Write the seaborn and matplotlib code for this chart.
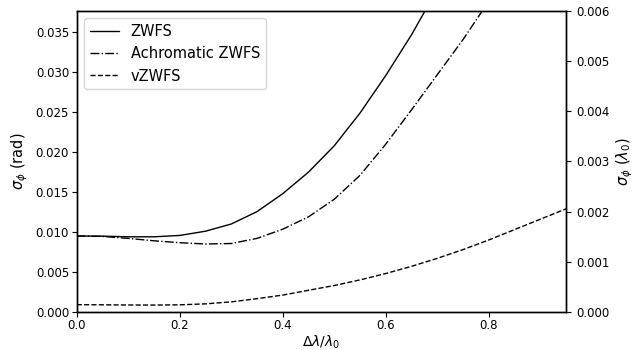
import numpy as np
import pandas as pd
import seaborn as sns
import matplotlib
matplotlib.use("Agg")
import matplotlib.pyplot as plt

sns.set_style("ticks")
plt.rcParams['font.family'] = ['DejaVu Sans']
plt.rcParams['text.color'] = 'k'
plt.rcParams['axes.labelcolor'] = 'k'
plt.rcParams['xtick.color'] = 'k'
plt.rcParams['ytick.color'] = 'k'

# bandwidth values
dl = [0.0, 0.05, 0.1, 0.15, 0.2, 0.25, 0.3, 0.35, 0.4, 0.45,
      0.5, 0.55, 0.6, 0.65, 0.7, 0.75, 0.8, 0.85, 0.9, 0.95]

zwfs = [0.0095, 0.00948, 0.0094, 0.0094, 0.00957, 0.0101, 0.0110, 0.01255, 0.0148, 0.0175,
        0.0208, 0.0249, 0.0296, 0.0347, 0.0404, 0.0466, 0.0533, 0.0605, 0.068, 0.076]
achro = [0.0095, 0.00945, 0.0092, 0.0089, 0.00866, 0.0085, 0.00856, 0.0092, 0.01035, 0.0119,
         0.0141, 0.0171, 0.0210, 0.0253, 0.0297, 0.0341, 0.0389, 0.0445, 0.050, 0.056]
vzwfs = [0.00090, 0.00088, 0.00086, 0.00085, 0.00088, 0.00100, 0.00125, 0.00165, 0.0021, 0.0027,
         0.0033, 0.0040, 0.0048, 0.0057, 0.0067, 0.0078, 0.0090, 0.0103, 0.0116, 0.0129]

labels = ["ZWFS", "Achromatic ZWFS", "vZWFS"]
styles = ["-", "-.", "--"]

fig = plt.figure(figsize=(6.36, 3.5), dpi=100)
ax = fig.add_axes([0.1206, 0.109, 0.7694, 0.860])

for vals, lab, ls in zip([zwfs, achro, vzwfs], labels, styles):
    df = pd.DataFrame({"dl": dl, "sigma": vals})
    sns.lineplot(data=df, x="dl", y="sigma", ax=ax, color="k", linestyle=ls,
                 linewidth=1.0, label=lab)

ax.set_xlim(0, 0.95)
ax.set_ylim(0, 0.006 * 2 * np.pi)
ax.set_xlabel(r"$\Delta\lambda/\lambda_0$", fontsize=10, labelpad=1)
ax.set_ylabel(r"$\sigma_\phi$ (rad)", fontsize=10.5)
ax.tick_params(labelsize=8.5, color="k", labelcolor="k", length=3.5, width=0.8, pad=2)
for s in ax.spines.values():
    s.set_color("k")
    s.set_linewidth(1.0)
leg = ax.legend(loc="upper left", fontsize=10.5, frameon=True)

ax2 = ax.twinx()
ax2.set_ylim(0, 0.006)
ax2.set_ylabel(r"$\sigma_\phi$ ($\lambda_0$)", fontsize=10.5)
ax2.tick_params(labelsize=8.5, color="k", labelcolor="k", length=3.5, width=0.8)
for s in ax2.spines.values():
    s.set_color("k")
    s.set_linewidth(1.0)

fig.savefig("out.png", dpi=100)
